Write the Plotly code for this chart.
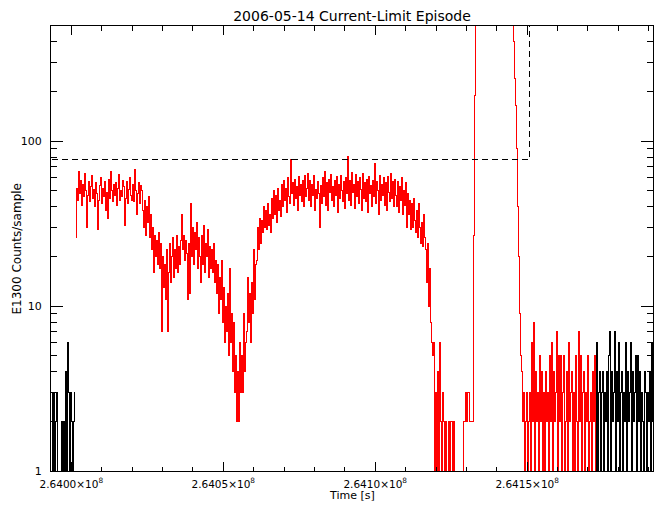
import numpy as np
import plotly.graph_objects as go

# ---------------- data ----------------
t_start = 263993485.0   # time of first sample [s]
dt = 329.0              # sample spacing [s]

counts = [
    # black lead-in
    3, 1, 3, 1, 2, 3, 1, 1, 1, 1, 2, 1, 2, 1, 4, 1, 6, 3, 1, 3, 2, 1, 2, 3,
    # red: first plateau
    26,
    52, 44, 66, 48, 58, 41, 55, 46, 64, 50, 30, 47, 57, 43, 53, 62, 45, 51, 40, 56,
    48, 29, 44, 54, 60, 42, 52, 46, 57, 38, 49, 34, 59, 45, 66, 50, 43, 55, 47, 56,
    41, 52, 63, 44, 50, 46, 58, 53, 31, 45, 57, 42, 51, 60, 47, 44, 55, 43, 67, 50,
    36, 48, 56, 42, 54,
    # first decline
    50, 38, 30, 44, 27, 40, 32, 46, 26, 36,
    22, 30, 16, 27, 20, 25, 18, 28, 17, 24,
    7, 20, 13, 18, 11, 22, 7,
    16, 24, 14, 20, 26, 15, 22, 17, 27, 16, 23, 18, 25,
    # shoulder, deep dip and recovery
    36, 22, 27, 19, 25, 21, 11, 24, 12, 42, 20, 30, 18, 28, 22, 32, 17, 26, 20, 14,
    27, 18, 31, 16, 24, 20, 29, 15, 23, 17, 22, 16, 24, 14, 19,
    12, 18, 9, 15, 11, 19, 8, 13, 6, 10,
    7, 12, 5, 17, 6, 9, 4, 8, 3, 5,
    2, 4, 2, 6, 3,
    5, 3, 9, 4, 6,
    7, 15, 8, 12, 6,
    14, 9, 22, 11, 18,
    19, 30, 22, 34, 24,
    33, 28, 40, 30, 38, 29, 42, 31, 36, 28,
    45, 34, 50, 36, 47, 32, 52, 38, 44, 35,
    55, 40, 58, 44, 52, 37, 60, 46, 42, 77, 48, 56, 41, 59, 45, 53, 38, 61, 47, 55,
    43, 58, 40, 62, 46,
    # second plateau
    52, 64, 44, 58, 40, 55, 47, 62, 38, 51, 45, 57, 48, 30, 54, 42, 60, 46, 66, 41,
    56, 38, 59, 49, 63, 44, 53, 40, 58, 47, 61, 37, 55, 45, 62, 50, 43, 57, 39, 60,
    48, 81, 44, 58, 41, 65, 49, 55, 39, 63, 46, 57, 42, 60, 51, 38, 64, 45, 56, 43,
    59, 37, 61, 48, 54, 40, 58, 46, 73, 42, 57, 50, 36, 62, 44, 55, 47, 60, 41, 56,
    38, 61, 49, 43, 64, 45, 57, 40, 59, 47,
    # collapse
    40, 57, 37, 53, 44, 60, 36, 50, 41, 56,
    30, 48, 36, 44, 29,
    42, 30, 45, 33, 28,
    38, 26, 42, 30, 24,
    32, 23, 36, 26, 22,
    14, 24, 10,
    17, 8,
    6, 5,
    6, 1, 3, 1, 4, 1, 6, 2,
    1, 3, 2, 1, 2, 1, 1, 2, 1, 2, 2, 1, 2, 1, 1,
    1, 1, 1, 1, 1, 1, 1,
    2, 2, 3, 2, 3, 3, 2, 2, 2, 2,
    # current-limit spike (off scale)
    27, 190,
    1200, 1800, 2500, 3100, 2800, 3500, 4200, 3900, 4600, 5200, 4800, 4400, 5000,
    5600, 5100, 4700, 5300, 4900, 4300, 4600, 4000, 3700, 4100, 3600, 3300, 3500,
    3000, 2700, 2900, 2400, 2100, 2300, 1900, 1600, 1300, 1100, 900, 700,
    400, 240, 165, 90, 40, 20, 9, 5, 4, 2, 3, 1, 2, 3, 1, 2,
    # red: background level after the episode
    3, 1, 6, 2, 8, 1, 4, 2, 3, 1, 5, 2,
    4, 1, 3, 1, 4, 2, 3, 1, 5, 2, 6, 1, 4, 2, 3, 7, 1, 5, 2, 5,
    1, 3, 5, 1, 2, 4, 1, 6, 2, 3, 4, 1, 3, 1, 5, 2, 1, 7, 2, 5,
    1, 3, 4, 1, 3, 2, 5, 1, 2, 3, 1, 4, 2, 5, 1,
    # black tail
    6, 1, 3, 4, 1, 3, 4, 1, 3, 2, 4, 1, 5, 7, 1, 4, 2, 3, 7, 1,
    4, 2, 6, 1, 3, 4, 1, 3, 2, 6, 1, 4, 2, 3, 6, 1, 4, 2, 3, 5,
    1, 5, 2, 4, 1, 3, 2, 1, 4, 3, 1, 3, 2, 4, 1, 6, 2, 3,
]

red_first = 24     # first sample of the highlighted interval
red_last = 544     # last sample of the highlighted interval

limit_level = 78           # counts/sample
limit_time = 264150600.0   # s

x_range = [263993320.0, 264191400.0]
y_range = [1.0, 500.0]

x_tick_vals = [264000000, 264050000, 264100000, 264150000]
x_tick_text = ["2.6400×10<sup>8</sup>", "2.6405×10<sup>8</sup>",
               "2.6410×10<sup>8</sup>", "2.6415×10<sup>8</sup>"]
x_minor_step = 10000
y_tick_vals = [1, 10, 100]
y_tick_text = ["1", "10", "100"]
y_minor_vals = [2, 3, 4, 5, 6, 7, 8, 9, 20, 30, 40, 50, 60, 70, 80, 90, 200, 300, 400]

title_text = "2006-05-14 Current-Limit Episode"
x_title = "Time [s]"
y_title = "E1300 Counts/sample"

# ---------------- figure ----------------
time = t_start + dt * np.arange(len(counts))
counts = np.array(counts, dtype=float)

# black: everything outside the highlighted interval (two pieces, broken by a gap)
bx = list(time[:red_first]) + [None] + list(time[red_last:])
by = list(counts[:red_first]) + [None] + list(counts[red_last:])

FONT = "DejaVu Sans"
W, H = 664, 511
ML, MR, MT, MB = 51, 11, 26, 40
PW, PH = W - ML - MR, H - MT - MB

fig = go.Figure()
fig.add_trace(go.Scatter(x=bx, y=by, mode="lines", line_shape="hv", connectgaps=False,
                         line=dict(color="black", width=1), showlegend=False))
fig.add_trace(go.Scatter(x=time[red_first:red_last + 1], y=counts[red_first:red_last + 1],
                         mode="lines", line_shape="hv",
                         line=dict(color="#ff0000", width=1), showlegend=False))
fig.add_trace(go.Scatter(x=[time[0], limit_time, limit_time],
                         y=[limit_level, limit_level, y_range[1] * 10],
                         mode="lines", line=dict(color="black", width=1, dash="6px,4px"),
                         showlegend=False))

fig.update_layout(
    width=W, height=H,
    margin=dict(l=ML, r=MR, t=MT, b=MB, pad=0),
    paper_bgcolor="white", plot_bgcolor="white",
    font=dict(family=FONT, size=11, color="black"),
    title=dict(text=title_text, x=0.5, xref="paper", xanchor="center",
               y=1 - 16 / H, yref="container", yanchor="middle",
               font=dict(family=FONT, size=14, color="black")),
    annotations=[
        dict(text=x_title, xref="paper", yref="paper", x=0.5, y=-(496 - (H - MB)) / PH,
             xanchor="center", yanchor="middle", showarrow=False,
             font=dict(family=FONT, size=11, color="black")),
        dict(text=y_title, xref="paper", yref="paper", x=(16 - ML) / PW, y=0.5,
             xanchor="center", yanchor="middle", textangle=-90, showarrow=False,
             font=dict(family=FONT, size=12, color="black")),
    ],
)

fig.update_xaxes(
    range=x_range, showgrid=False, zeroline=False, automargin=False,
    showline=True, linecolor="black", linewidth=1, mirror="ticks",
    ticks="inside", ticklen=9, tickcolor="black", tickwidth=1,
    tickmode="array", tickvals=x_tick_vals, ticktext=x_tick_text,
    tickfont=dict(family=FONT, size=10.5), ticklabelstandoff=3,
    minor=dict(ticks="inside", ticklen=4.5, tickcolor="black", tickwidth=1,
               tick0=x_tick_vals[0], dtick=x_minor_step, showgrid=False),
)
fig.update_yaxes(
    type="log", range=[np.log10(y_range[0]), np.log10(y_range[1])],
    showgrid=False, zeroline=False, automargin=False,
    showline=True, linecolor="black", linewidth=1, mirror="ticks",
    ticks="inside", ticklen=12, tickcolor="black", tickwidth=1,
    tickmode="array", tickvals=y_tick_vals, ticktext=y_tick_text,
    tickfont=dict(family=FONT, size=11), ticklabelstandoff=6,
    minor=dict(ticks="inside", ticklen=6, tickcolor="black", tickwidth=1,
               tickvals=y_minor_vals, showgrid=False),
)

crisp = ("document.querySelectorAll('path.js-line').forEach(function(p){"
         "p.style.shapeRendering='crispEdges';});")
fig.write_html("out.html", post_script=crisp)
